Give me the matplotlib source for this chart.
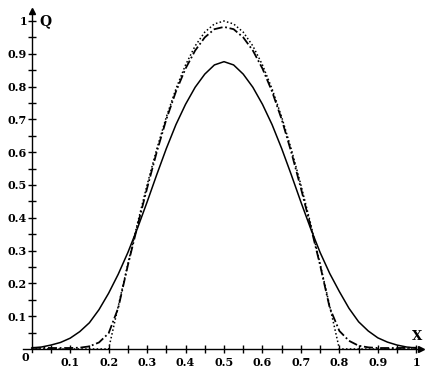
import numpy as np
import matplotlib
matplotlib.use("Agg")
import matplotlib.pyplot as plt

# values
x_solid = [0.000, 0.025, 0.050, 0.075, 0.100, 0.125, 0.150, 0.175, 0.200, 0.225,
           0.250, 0.275, 0.300, 0.325, 0.350, 0.375, 0.400, 0.425, 0.450, 0.475,
           0.500, 0.525, 0.550, 0.575, 0.600, 0.625, 0.650, 0.675, 0.700, 0.725,
           0.750, 0.775, 0.800, 0.825, 0.850, 0.875, 0.900, 0.925, 0.950, 0.975, 1.000]
q_solid = [0.003, 0.006, 0.012, 0.020, 0.033, 0.053, 0.080, 0.120, 0.170, 0.228,
           0.294, 0.368, 0.448, 0.531, 0.611, 0.684, 0.746, 0.798, 0.838, 0.866,
           0.876, 0.866, 0.838, 0.798, 0.746, 0.684, 0.611, 0.531, 0.448, 0.368,
           0.294, 0.230, 0.175, 0.124, 0.083, 0.055, 0.034, 0.021, 0.012, 0.006, 0.003]

x_dash = [0.000, 0.050, 0.100, 0.125, 0.150, 0.175, 0.200, 0.225, 0.250, 0.275,
          0.300, 0.325, 0.350, 0.375, 0.400, 0.425, 0.450, 0.475, 0.500, 0.525,
          0.550, 0.575, 0.600, 0.625, 0.650, 0.675, 0.700, 0.725, 0.750, 0.775,
          0.800, 0.825, 0.850, 0.875, 0.900, 0.950, 1.000]
q_dash = [0.004, 0.003, 0.003, 0.004, 0.008, 0.020, 0.048, 0.125, 0.255, 0.375,
          0.490, 0.600, 0.700, 0.785, 0.855, 0.910, 0.950, 0.975, 0.982, 0.975,
          0.950, 0.910, 0.855, 0.785, 0.700, 0.600, 0.490, 0.375, 0.255, 0.125,
          0.055, 0.025, 0.010, 0.005, 0.003, 0.003, 0.004]

x_dot = [0.000, 0.200, 0.225, 0.250, 0.275, 0.300, 0.325, 0.350, 0.375, 0.400,
         0.425, 0.450, 0.475, 0.500, 0.525, 0.550, 0.575, 0.600, 0.625, 0.650,
         0.675, 0.700, 0.725, 0.750, 0.775, 0.800, 1.000]
q_dot = [0.000, 0.000, 0.130, 0.259, 0.383, 0.500, 0.609, 0.707, 0.793, 0.866,
         0.924, 0.966, 0.991, 1.000, 0.991, 0.966, 0.924, 0.866, 0.793, 0.707,
         0.609, 0.500, 0.383, 0.259, 0.130, 0.000, 0.000]

major = [0.1, 0.2, 0.3, 0.4, 0.5, 0.6, 0.7, 0.8, 0.9, 1.0]
major_labels = ["0.1", "0.2", "0.3", "0.4", "0.5", "0.6", "0.7", "0.8", "0.9", "1"]

plt.rcParams.update({"font.family": "DejaVu Serif", "font.weight": "bold"})

fig = plt.figure(figsize=(4.37, 3.78), dpi=100)
ax = fig.add_axes([0, 0, 1, 1])
ax.set_xlim(-0.0824, 1.0538)
ax.set_ylim(-0.0884, 1.064)

ax.plot(x_solid, q_solid, color="black", lw=1.1)
ax.plot(x_dash, q_dash, color="black", lw=1.3, ls=(0, (5, 1.5, 1, 1.5)))
ax.plot(x_dot, q_dot, color="black", lw=1.1, ls=(0, (1, 1.5)))

for s in ["top", "right"]:
    ax.spines[s].set_visible(False)
ax.spines["left"].set_position(("data", 0))
ax.spines["bottom"].set_position(("data", 0))
ax.spines["left"].set_bounds(-0.008, 1.03)
ax.spines["bottom"].set_bounds(-0.022, 1.012)
for s in ["left", "bottom"]:
    ax.spines[s].set_linewidth(1.0)

minor = [m - 0.05 for m in major]
ax.set_xticks(major)
ax.set_xticklabels(major_labels)
ax.set_yticks(major)
ax.set_yticklabels(major_labels)
ax.set_xticks(minor, minor=True)
ax.set_yticks(minor, minor=True)
ax.tick_params(which="both", direction="inout", length=5.8, width=1.0, labelsize=8)
ax.tick_params(axis="x", which="both", pad=3)
ax.tick_params(axis="y", which="both", pad=0.5)
for lab in ax.get_xticklabels() + ax.get_yticklabels():
    lab.set_fontweight("bold")

# arrow heads
ax.plot([0], [1.03], marker="^", color="black", ms=4.5, clip_on=False)
ax.plot([1.012], [0], marker=">", color="black", ms=4.5, clip_on=False)

ax.text(-0.017, -0.027, "0", fontsize=8, fontweight="bold", ha="center", va="center")
ax.text(0.037, 1.0, "Q", fontsize=10, fontweight="bold", ha="center", va="center")
ax.text(1.003, 0.0375, "X", fontsize=9.5, fontweight="bold", ha="center", va="center")

fig.savefig("out.png", dpi=100)
